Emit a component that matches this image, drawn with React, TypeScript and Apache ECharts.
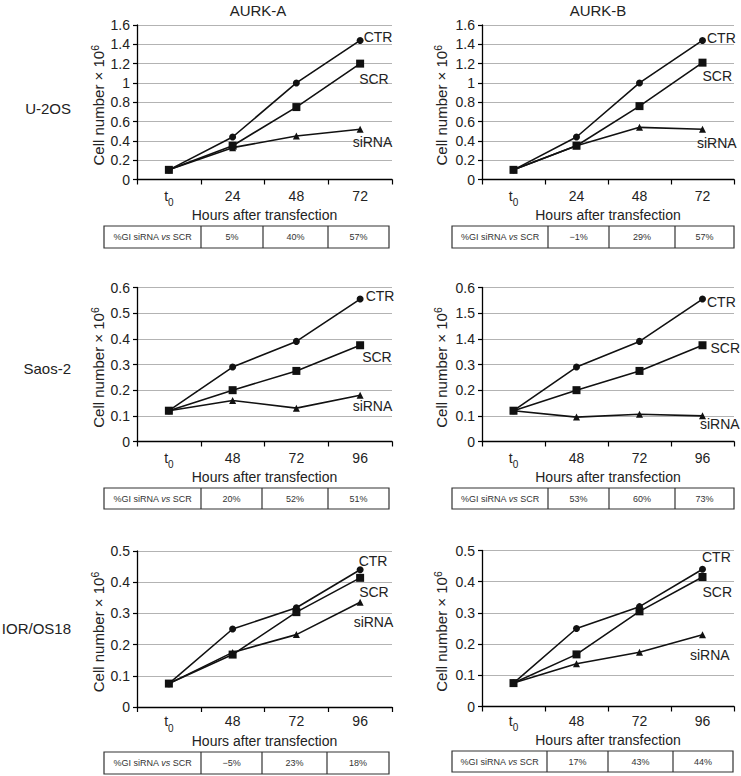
import React, { useEffect, useRef } from "react";
import * as echarts from "echarts";

// ---------- data ----------
const hoursU2OS = ["t0", "24", "48", "72"];
const hoursOther = ["t0", "48", "72", "96"];
const seriesNames = ["CTR", "SCR", "siRNA"];
const colTitles = ["AURK-A", "AURK-B"];
const rowLabels = ["U-2OS", "Saos-2", "IOR/OS18"];

const u2osA_CTR = [0.1, 0.44, 1.0, 1.44];
const u2osA_SCR = [0.1, 0.35, 0.75, 1.2];
const u2osA_siRNA = [0.1, 0.33, 0.45, 0.52];

const u2osB_CTR = [0.1, 0.44, 1.0, 1.44];
const u2osB_SCR = [0.1, 0.35, 0.76, 1.21];
const u2osB_siRNA = [0.1, 0.35, 0.54, 0.52];

const saosA_CTR = [0.12, 0.29, 0.39, 0.555];
const saosA_SCR = [0.12, 0.2, 0.275, 0.375];
const saosA_siRNA = [0.12, 0.16, 0.13, 0.18];

const saosB_CTR = [0.12, 0.29, 0.39, 0.555];
const saosB_SCR = [0.12, 0.2, 0.275, 0.375];
const saosB_siRNA = [0.12, 0.095, 0.106, 0.1];

const iorA_CTR = [0.075, 0.25, 0.318, 0.44];
const iorA_SCR = [0.075, 0.168, 0.304, 0.414];
const iorA_siRNA = [0.075, 0.175, 0.232, 0.336];

const iorB_CTR = [0.075, 0.25, 0.32, 0.44];
const iorB_SCR = [0.075, 0.167, 0.305, 0.415];
const iorB_siRNA = [0.075, 0.137, 0.174, 0.23];

// tick labels as printed in the figure (Saos-2 / AURK-B axis)
const yTicksSaosB = ["0", "0.1", "0.2", "0.3", "1.4", "1.5", "0.6"];

const giHeader = "%GI siRNA {i|vs} SCR";
const gi_u2osA = ["5%", "40%", "57%"];
const gi_u2osB = ["\u22121%", "29%", "57%"];
const gi_saosA = ["20%", "52%", "51%"];
const gi_saosB = ["53%", "60%", "73%"];
const gi_iorA = ["\u22125%", "23%", "18%"];
const gi_iorB = ["17%", "43%", "44%"];

// ---------- layout ----------
const FONT = "'Liberation Sans', Arial, Helvetica, sans-serif";
const TXT = "#222";

const panels = [
  {
    grid: { left: 137, top: 25, width: 255, height: 154.5 },
    cats: hoursU2OS, data: [u2osA_CTR, u2osA_SCR, u2osA_siRNA],
    max: 1.6, interval: 0.2, ticks: null as string[] | null, nameGap: 29, xGap: 25, xMargin: 9,
    offs: [[-5, -3], [-10, 15], [-16, 13]],
    table: { x: 104, y: 226, w: 285, h: 22, cols: [201, 263, 328] }, gi: gi_u2osA,
  },
  {
    grid: { left: 482, top: 25, width: 252, height: 154.5 },
    cats: hoursU2OS, data: [u2osB_CTR, u2osB_SCR, u2osB_siRNA],
    max: 1.6, interval: 0.2, ticks: null, nameGap: 31, xGap: 25, xMargin: 9,
    offs: [[-4, -2], [-9, 13], [-14, 14]],
    table: { x: 452, y: 226, w: 282, h: 22, cols: [548, 609, 675] }, gi: gi_u2osB,
  },
  {
    grid: { left: 137, top: 287.5, width: 255, height: 154 },
    cats: hoursOther, data: [saosA_CTR, saosA_SCR, saosA_siRNA],
    max: 0.6, interval: 0.1, ticks: null, nameGap: 29, xGap: 25, xMargin: 9,
    offs: [[-3, -3], [-7, 12], [-16, 11]],
    table: { x: 104, y: 488, w: 285, h: 21, cols: [201, 262, 328] }, gi: gi_saosA,
  },
  {
    grid: { left: 482, top: 287.5, width: 252, height: 154 },
    cats: hoursOther, data: [saosB_CTR, saosB_SCR, saosB_siRNA],
    max: 0.6, interval: 0.1, ticks: yTicksSaosB, nameGap: 31, xGap: 25, xMargin: 9,
    offs: [[-4, 3], [-1, 3], [-11, 8]],
    table: { x: 452, y: 488, w: 282, h: 21, cols: [548, 609, 675] }, gi: gi_saosB,
  },
  {
    grid: { left: 137, top: 551, width: 255, height: 156 },
    cats: hoursOther, data: [iorA_CTR, iorA_SCR, iorA_siRNA],
    max: 0.5, interval: 0.1, ticks: null, nameGap: 29, xGap: 23, xMargin: 7,
    offs: [[-10, -9], [-10, 14], [-15, 20]],
    table: { x: 104, y: 752, w: 285, h: 22, cols: [201, 262, 327] }, gi: gi_iorA,
  },
  {
    grid: { left: 482, top: 550.5, width: 252, height: 156 },
    cats: hoursOther, data: [iorB_CTR, iorB_SCR, iorB_siRNA],
    max: 0.5, interval: 0.1, ticks: null, nameGap: 31, xGap: 23, xMargin: 7,
    offs: [[-9, -12], [-9, 15], [-21, 20]],
    table: { x: 452, y: 751, w: 281, h: 21, cols: [547, 608, 673] }, gi: gi_iorB,
  },
];

const symbols = ["circle", "rect", "triangle"];
const symbolSizes = [7, 8, 7];

function buildOption() {
  const grids: any[] = [];
  const xAxes: any[] = [];
  const yAxes: any[] = [];
  const series: any[] = [];
  const graphics: any[] = [];

  panels.forEach((p, i) => {
    grids.push({ ...p.grid, containLabel: false });
    xAxes.push({
      type: "category",
      gridIndex: i,
      data: p.cats,
      boundaryGap: true,
      axisLine: { show: true, lineStyle: { color: "#000", width: 1.3 } },
      axisTick: { show: true, length: 5, inside: false, lineStyle: { color: "#000", width: 1.2 } },
      axisLabel: {
        interval: 0,
        margin: p.xMargin,
        fontSize: 14,
        fontFamily: FONT,
        color: TXT,
        formatter: (v: string) => (v === "t0" ? "{t|t}{s|0}" : v),
        rich: {
          t: { fontSize: 14, fontFamily: FONT, color: TXT, padding: [0, 0, 5, 0] },
          s: { fontSize: 10, fontFamily: FONT, color: TXT, padding: [9, 0, 0, 0] },
        },
      },
      splitLine: { show: false },
      name: "Hours after transfection",
      nameLocation: "middle",
      nameGap: p.xGap,
      nameTextStyle: { fontSize: 14, fontFamily: FONT, color: TXT },
    });
    yAxes.push({
      type: "value",
      gridIndex: i,
      min: 0,
      max: p.max,
      interval: p.interval,
      axisLine: { show: true, lineStyle: { color: "#000", width: 1.3 } },
      axisTick: { show: true, length: 4, inside: false, lineStyle: { color: "#000", width: 1.2 } },
      axisLabel: {
        margin: 7,
        fontSize: 14,
        fontFamily: FONT,
        color: TXT,
        formatter: (v: number) => {
          const idx = Math.round(v / p.interval);
          if (p.ticks) return p.ticks[idx];
          return String(Math.round(v * 10) / 10);
        },
      },
      splitLine: { show: true, lineStyle: { color: "#b3b3b3", width: 1 } },
      name: "Cell number \u00d7 10{sup|6}",
      nameLocation: "middle",
      nameGap: p.nameGap,
      nameRotate: 90,
      nameTextStyle: {
        fontSize: 15,
        fontFamily: FONT,
        color: TXT,
        padding: [0, 6, 0, 0],
        rich: {
          sup: { fontSize: 10.5, fontFamily: FONT, color: TXT, padding: [0, 0, 8, 0] },
        },
      },
    });

    p.data.forEach((vals, k) => {
      series.push({
        type: "line",
        name: seriesNames[k],
        xAxisIndex: i,
        yAxisIndex: i,
        data: vals,
        symbol: symbols[k],
        symbolSize: symbolSizes[k],
        showAllSymbol: true,
        lineStyle: { color: "#111", width: 1.6 },
        itemStyle: { color: "#111", borderWidth: 0 },
        z: 10 - k,
        label: {
          show: true,
          position: "right",
          distance: 5,
          offset: p.offs[k],
          fontSize: 14,
          fontFamily: FONT,
          color: TXT,
          formatter: (prm: any) => (prm.dataIndex === vals.length - 1 ? seriesNames[k] : ""),
        },
        emphasis: { disabled: true },
      });
    });

    // table
    const t = p.table;
    graphics.push({
      type: "rect",
      shape: { x: t.x, y: t.y, width: t.w, height: t.h },
      style: { fill: "#fff", stroke: "#333", lineWidth: 1.2 },
    });
    t.cols.forEach((cx) => {
      graphics.push({
        type: "line",
        shape: { x1: cx, y1: t.y, x2: cx, y2: t.y + t.h },
        style: { stroke: "#333", lineWidth: 1.2 },
      });
    });
    const edges = [t.x, ...t.cols, t.x + t.w];
    const texts = [giHeader, ...p.gi];
    texts.forEach((tx, j) => {
      graphics.push({
        type: "text",
        x: (edges[j] + edges[j + 1]) / 2,
        y: t.y + t.h / 2,
        style: {
          text: tx,
          fontSize: 9,
          fontFamily: FONT,
          fill: "#333",
          align: "center",
          verticalAlign: "middle",
          rich: { i: { fontSize: 9, fontFamily: FONT, fontStyle: "italic", fill: "#333" } },
        },
      });
    });
  });

  // column titles
  const titleX = [258, 598];
  colTitles.forEach((tt, i) => {
    graphics.push({
      type: "text",
      x: titleX[i],
      y: 10,
      style: { text: tt, fontSize: 15, fontFamily: FONT, fill: TXT, align: "center", verticalAlign: "middle" },
    });
  });
  // row labels
  const rowY = [108, 368, 628];
  rowLabels.forEach((rl, i) => {
    graphics.push({
      type: "text",
      x: 71,
      y: rowY[i],
      style: { text: rl, fontSize: 15, fontFamily: FONT, fill: TXT, align: "right", verticalAlign: "middle" },
    });
  });

  return {
    animation: false,
    backgroundColor: "#fff",
    grid: grids,
    xAxis: xAxes,
    yAxis: yAxes,
    series,
    graphic: graphics,
  };
}

export default function App() {
  const ref = useRef<HTMLDivElement>(null);
  useEffect(() => {
    if (!ref.current) return;
    const chart = echarts.init(ref.current, undefined, { renderer: "svg" });
    chart.setOption(buildOption() as any);
    return () => chart.dispose();
  }, []);
  return (
    <div
      ref={ref}
      style={{ position: "absolute", left: 0, top: 0, width: 741, height: 776, background: "#fff" }}
    />
  );
}
